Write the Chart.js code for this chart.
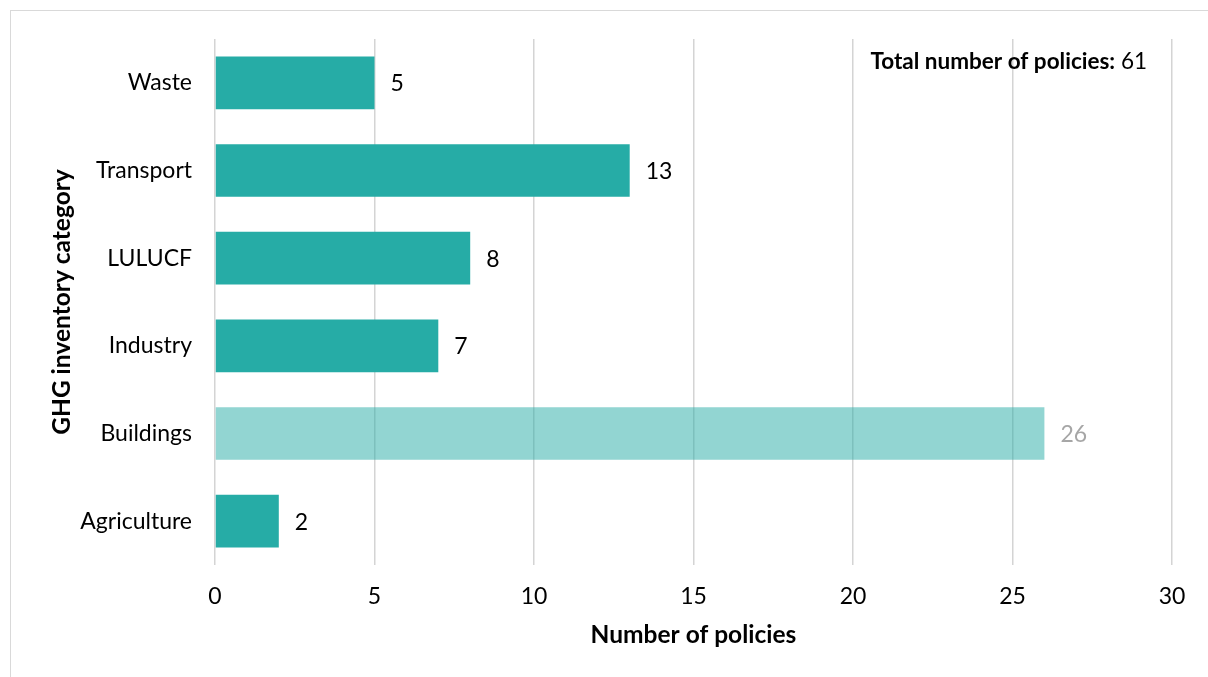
<!DOCTYPE html>
<html>
<head>
<meta charset="utf-8">
<script src="https://cdn.jsdelivr.net/npm/chart.js@4.4.1/dist/chart.umd.min.js"></script>
<style>
  html, body { margin: 0; padding: 0; background: #fff; overflow: hidden; }
  #frame {
    position: absolute; left: 10px; top: 10px;
    width: 1400px; height: 900px;
    border: 1px solid #d9d9d9;
  }
  #policyChart { position: absolute; left: 0; top: 0; }
</style>
</head>
<body>
<div id="frame"></div>
<canvas id="policyChart" width="1208" height="677"></canvas>
<script>
// Políticas por categoría del inventario de GEI
const categories = ['Waste', 'Transport', 'LULUCF', 'Industry', 'Buildings', 'Agriculture'];
const policyCounts = [5, 13, 8, 7, 26, 2];
const xTicks = [0, 5, 10, 15, 20, 25, 30];
const totalPolicies = 61;

const TEAL = 'rgb(38,172,166)';
const TEAL_LIGHT = 'rgba(38,172,166,0.5)';
const FONT = 'Lato, "Open Sans", sans-serif';

// Buildings va resaltado en tono claro
const barColors = categories.map(c => c === 'Buildings' ? TEAL_LIGHT : TEAL);
const labelColors = categories.map(c => c === 'Buildings' ? '#a6a6a6' : '#000');

// Etiquetas con el valor al final de cada barra
const valueLabels = {
  id: 'valueLabels',
  afterDatasetsDraw(chart) {
    const ctx = chart.ctx;
    const meta = chart.getDatasetMeta(0);
    ctx.save();
    ctx.font = '23px ' + FONT;
    ctx.textAlign = 'left';
    ctx.textBaseline = 'middle';
    meta.data.forEach((bar, i) => {
      ctx.fillStyle = labelColors[i];
      ctx.fillText(String(policyCounts[i]), bar.x + 16, bar.y + 1);
    });
    ctx.restore();
  }
};

// Texto del total arriba a la derecha
const totalNote = {
  id: 'totalNote',
  afterDraw(chart) {
    const ctx = chart.ctx;
    const boldPart = 'Total number of policies:';
    const normalPart = ' ' + totalPolicies;
    const right = 1147, y = 62;
    ctx.save();
    ctx.textBaseline = 'middle';
    ctx.fillStyle = '#000';
    ctx.font = '22.5px ' + FONT;
    const wNormal = ctx.measureText(normalPart).width;
    ctx.textAlign = 'left';
    ctx.fillText(normalPart, right - wNormal, y);
    ctx.font = 'bold 22.5px ' + FONT;
    ctx.textAlign = 'right';
    ctx.fillText(boldPart, right - wNormal, y);
    ctx.restore();
  }
};

new Chart(document.getElementById('policyChart'), {
  type: 'bar',
  data: {
    labels: categories,
    datasets: [{
      data: policyCounts,
      backgroundColor: barColors,
      borderWidth: 0,
      barPercentage: 0.6,
      categoryPercentage: 1
    }]
  },
  options: {
    indexAxis: 'y',
    responsive: false,
    animation: false,
    layout: { padding: { top: 39, right: 36, bottom: 0, left: 0 } },
    plugins: {
      legend: { display: false },
      tooltip: { enabled: false }
    },
    scales: {
      x: {
        min: 0,
        max: 30,
        afterFit: s => { s.height = 112; },
        afterBuildTicks: s => { s.ticks = xTicks.map(v => ({ value: v })); },
        grid: { color: '#d4d4d4', lineWidth: 1.5, drawTicks: false },
        border: { display: false },
        ticks: { color: '#000', padding: 18, font: { family: FONT, size: 23 } },
        title: {
          display: true,
          text: 'Number of policies',
          color: '#000',
          padding: { top: 0, bottom: 27 },
          font: { family: FONT, size: 24.5, weight: 'bold' }
        }
      },
      y: {
        afterFit: s => { s.width = 215; },
        grid: { display: false, drawTicks: false },
        border: { display: false },
        ticks: { color: '#000', padding: 23, font: { family: FONT, size: 23 } },
        title: {
          display: true,
          text: 'GHG inventory category',
          color: '#000',
          padding: { top: 47, bottom: 0 },
          font: { family: FONT, size: 24.5, weight: 'bold' }
        }
      }
    }
  },
  plugins: [valueLabels, totalNote]
});
</script>
</body>
</html>
